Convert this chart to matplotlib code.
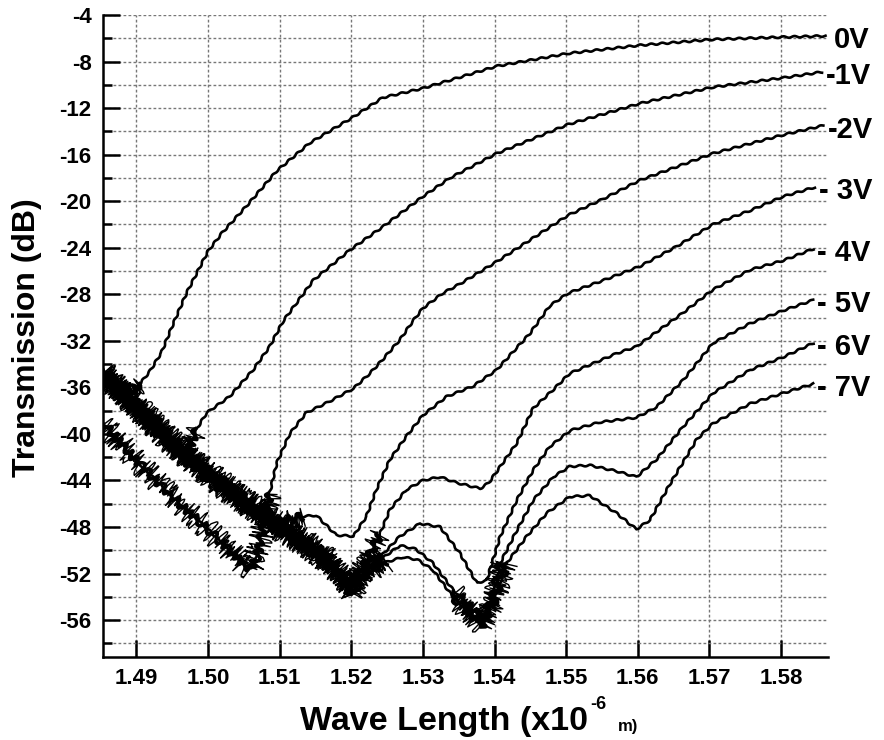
import numpy as np
import matplotlib
matplotlib.use("Agg")
import matplotlib.pyplot as plt
from matplotlib.ticker import MultipleLocator, FormatStrFormatter

plt.rcParams['font.family'] = ['Liberation Sans', 'DejaVu Sans']
plt.rcParams['font.weight'] = 'bold'
plt.rcParams['axes.unicode_minus'] = False

# curve labels (bias voltage)
labels = ['0V', '-1V', '-2V', '- 3V', '- 4V', '- 5V', '- 6V', '- 7V']

# wavelength (x1e-6 m) / transmission (dB)
wl_0v = [1.4853, 1.4870, 1.4885, 1.4895, 1.4905, 1.4919, 1.4935, 1.4951, 1.4970, 1.5000, 1.5020, 1.5054,
         1.5096, 1.5142, 1.5202, 1.5244, 1.5300, 1.5338, 1.5403, 1.5503, 1.5603, 1.5705, 1.5803, 1.5862]
tr_0v = [-34.6, -35.6, -36.4, -36.3, -35.7, -34.6, -33.0, -30.6, -27.9, -24.3, -22.7, -20.4,
         -17.4, -15.0, -12.8, -11.1, -10.3, -9.6, -8.4, -7.3, -6.6, -6.1, -5.9, -5.8]

wl_1v = [1.4853, 1.4900, 1.4940, 1.4970, 1.4985, 1.4998, 1.5030, 1.5063, 1.5086, 1.5105, 1.5123,
         1.5147, 1.5198, 1.5244, 1.5300, 1.5338, 1.5403, 1.5503, 1.5603, 1.5705, 1.5803, 1.5857]
tr_1v = [-34.9, -37.7, -40.2, -41.8, -39.5, -38.2, -36.8, -34.5, -32.5, -30.3, -28.8,
         -26.8, -24.2, -22.2, -19.6, -18.0, -15.9, -13.4, -11.6, -10.2, -9.4, -8.9]

wl_2v = [1.4853, 1.4900, 1.4950, 1.5000, 1.5030, 1.5049, 1.5060, 1.5068, 1.5077, 1.5086, 1.5096,
         1.5114, 1.5137, 1.5170, 1.5203, 1.5226, 1.5244, 1.5268, 1.5286, 1.5300, 1.5328, 1.5352,
         1.5403, 1.5503, 1.5552, 1.5603, 1.5705, 1.5803, 1.5859]
tr_2v = [-39.0, -42.3, -45.4, -48.2, -50.0, -51.2, -51.6, -50.6, -48.0, -45.1, -42.5,
         -40.0, -38.2, -37.2, -36.1, -34.8, -33.6, -31.9, -30.3, -29.2, -27.9, -27.1,
         -25.2, -21.2, -19.8, -18.2, -15.9, -14.3, -13.5]

wl_3v = [1.4853, 1.4900, 1.4950, 1.5000, 1.5050, 1.5096, 1.5109, 1.5133, 1.5151, 1.5179, 1.5203,
         1.5221, 1.5235, 1.5254, 1.5277, 1.5300, 1.5333, 1.5370, 1.5403, 1.5431, 1.5449, 1.5477,
         1.5503, 1.5552, 1.5603, 1.5654, 1.5705, 1.5757, 1.5803, 1.5847]
tr_3v = [-34.8, -37.7, -40.8, -43.5, -45.8, -47.9, -47.4, -47.1, -47.0, -48.7, -48.8,
         -47.1, -44.8, -42.2, -40.2, -38.4, -36.8, -35.9, -34.5, -32.6, -31.4, -29.0,
         -27.9, -26.8, -25.6, -23.9, -22.0, -20.8, -19.6, -18.8]

wl_4v = [1.4853, 1.4900, 1.4950, 1.5000, 1.5050, 1.5096, 1.5137, 1.5165, 1.5189, 1.5200, 1.5221,
         1.5240, 1.5254, 1.5277, 1.5300, 1.5324, 1.5347, 1.5380, 1.5392, 1.5431, 1.5454, 1.5482,
         1.5505, 1.5570, 1.5598, 1.5663, 1.5705, 1.5757, 1.5803, 1.5845]
tr_4v = [-35.0, -37.9, -41.0, -43.7, -46.0, -48.1, -49.7, -51.0, -52.6, -53.0, -51.0,
         -48.6, -46.5, -44.8, -44.0, -43.7, -44.2, -44.7, -44.2, -40.8, -37.8, -36.2,
         -34.8, -33.1, -32.5, -29.6, -27.6, -25.9, -25.1, -24.1]

wl_5v = [1.4853, 1.4900, 1.4950, 1.5000, 1.5050, 1.5096, 1.5137, 1.5165, 1.5189, 1.5200, 1.5221,
         1.5240, 1.5268, 1.5296, 1.5324, 1.5352, 1.5375, 1.5389, 1.5408, 1.5431, 1.5454, 1.5477,
         1.5506, 1.5547, 1.5598, 1.5626, 1.5663, 1.5705, 1.5757, 1.5803, 1.5845]
tr_5v = [-34.6, -37.5, -40.6, -43.3, -45.6, -47.7, -49.3, -50.6, -52.4, -53.2, -51.6,
         -50.6, -48.8, -47.7, -48.0, -50.3, -52.8, -52.6, -48.8, -45.7, -43.1, -41.1,
         -39.7, -39.0, -38.6, -37.7, -35.4, -32.2, -30.5, -29.4, -28.5]

wl_6v = [1.4853, 1.4900, 1.4950, 1.5000, 1.5050, 1.5096, 1.5137, 1.5165, 1.5189, 1.5200, 1.5221,
         1.5245, 1.5268, 1.5290, 1.5314, 1.5342, 1.5370, 1.5382, 1.5398, 1.5408, 1.5431, 1.5454,
         1.5482, 1.5505, 1.5533, 1.5570, 1.5598, 1.5626, 1.5663, 1.5705, 1.5757, 1.5803, 1.5845]
tr_6v = [-35.2, -38.1, -41.2, -43.9, -46.2, -48.3, -49.9, -51.2, -52.8, -53.5, -51.8,
         -50.6, -49.6, -49.9, -51.1, -53.4, -55.1, -56.0, -54.0, -51.1, -48.3, -45.7,
         -43.7, -42.8, -42.7, -43.2, -43.7, -42.2, -39.4, -36.5, -34.5, -33.4, -32.2]

wl_7v = [1.4853, 1.4900, 1.4950, 1.5000, 1.5050, 1.5096, 1.5137, 1.5165, 1.5189, 1.5200, 1.5221,
         1.5250, 1.5272, 1.5292, 1.5314, 1.5342, 1.5370, 1.5382, 1.5398, 1.5417, 1.5445, 1.5473,
         1.5505, 1.5533, 1.5570, 1.5598, 1.5617, 1.5645, 1.5682, 1.5705, 1.5757, 1.5803, 1.5845]
tr_7v = [-34.4, -37.3, -40.4, -43.1, -45.4, -47.5, -49.1, -50.4, -52.2, -53.8, -52.0,
         -51.0, -50.6, -50.8, -51.7, -54.0, -55.7, -56.5, -54.6, -51.1, -48.8, -46.8,
         -45.4, -45.3, -46.8, -48.2, -47.4, -44.3, -40.5, -39.1, -37.4, -36.5, -35.7]

curves = [(wl_0v, tr_0v), (wl_1v, tr_1v), (wl_2v, tr_2v), (wl_3v, tr_3v),
          (wl_4v, tr_4v), (wl_5v, tr_5v), (wl_6v, tr_6v), (wl_7v, tr_7v)]

# wavelength spans drawn with the noisy look of the measurement
noisy = [[(1.4853, 1.4895)], [(1.4853, 1.4972)], [(1.4853, 1.5077)], [(1.4853, 1.5109)],
         [(1.4853, 1.5221)], [(1.4853, 1.5221)], [(1.4853, 1.5221), (1.5342, 1.5400)],
         [(1.4853, 1.5221), (1.5342, 1.5400)]]

W, H = 884, 740
fig = plt.figure(figsize=(W / 100, H / 100), dpi=100)
ax = fig.add_axes([102.7 / W, 1 - 656.7 / H, (828 - 102.7) / W, (656.7 - 15) / H])

for i, (x, y) in enumerate(curves):
    x = np.array(x)
    y = np.array(y)
    ln, = ax.plot(x, y, color='black', lw=1.9, solid_joinstyle='round')
    ln.set_sketch_params(scale=0.8, length=11, randomness=1.0)
    for lo, hi in noisy[i]:
        idx = np.where((x >= lo) & (x <= hi))[0]
        idx = np.arange(idx[0], min(idx[-1] + 2, len(x)))
        core, = ax.plot(x[idx], y[idx], color='black', lw=2.6, solid_capstyle='butt')
        core.set_sketch_params(scale=4.0, length=9 + i, randomness=3)
        spk, = ax.plot(x[idx], y[idx], color='black', lw=1.0)
        spk.set_sketch_params(scale=10 + 1.0 * (i % 3), length=5 + 0.4 * i, randomness=6)
    ax.annotate(labels[i], (x[-1], y[-1]), xytext=(3 if i else 6, -3), textcoords='offset points',
                ha='left', va='center', fontsize=21, fontweight='bold',
                annotation_clip=False)

ax.set_xlim(1.4853, 1.58655)
ax.set_ylim(-59.15, -4)
ax.xaxis.set_major_locator(MultipleLocator(0.01))
ax.xaxis.set_major_formatter(FormatStrFormatter('%.2f'))
ax.yaxis.set_major_locator(MultipleLocator(4))
ax.yaxis.set_minor_locator(MultipleLocator(2))

for s in ['top', 'right']:
    ax.spines[s].set_visible(False)
for s in ['left', 'bottom']:
    ax.spines[s].set_linewidth(1.8)

ax.tick_params(which='major', direction='in', length=12, width=1.8, labelsize=16, pad=8)
ax.tick_params(which='minor', direction='in', length=6.5, width=1.8)
ax.grid(which='both', axis='y', color='#777777', lw=1.0, linestyle=(0, (2, 1.6)))
ax.grid(which='major', axis='x', color='#777777', lw=1.0, linestyle=(0, (2, 1.6)))
ax.set_axisbelow(True)

fig.text(27 / W, 1 - 338 / H, 'Transmission (dB)', rotation=90, ha='center', va='center',
         fontsize=23, fontweight='bold')
t1 = fig.text(300 / W, 1 - 730 / H, 'Wave Length (x10', ha='left', va='baseline',
              fontsize=24.5, fontweight='bold')
fig.canvas.draw()
x1 = t1.get_window_extent().x1
fig.text((x1 + 2) / W, 1 - 709 / H, '-6', ha='left', va='baseline', fontsize=13, fontweight='bold')
fig.text((x1 + 30) / W, 1 - 731 / H, 'm)', ha='left', va='baseline', fontsize=12, fontweight='bold')

fig.savefig('out.png', dpi=100)
